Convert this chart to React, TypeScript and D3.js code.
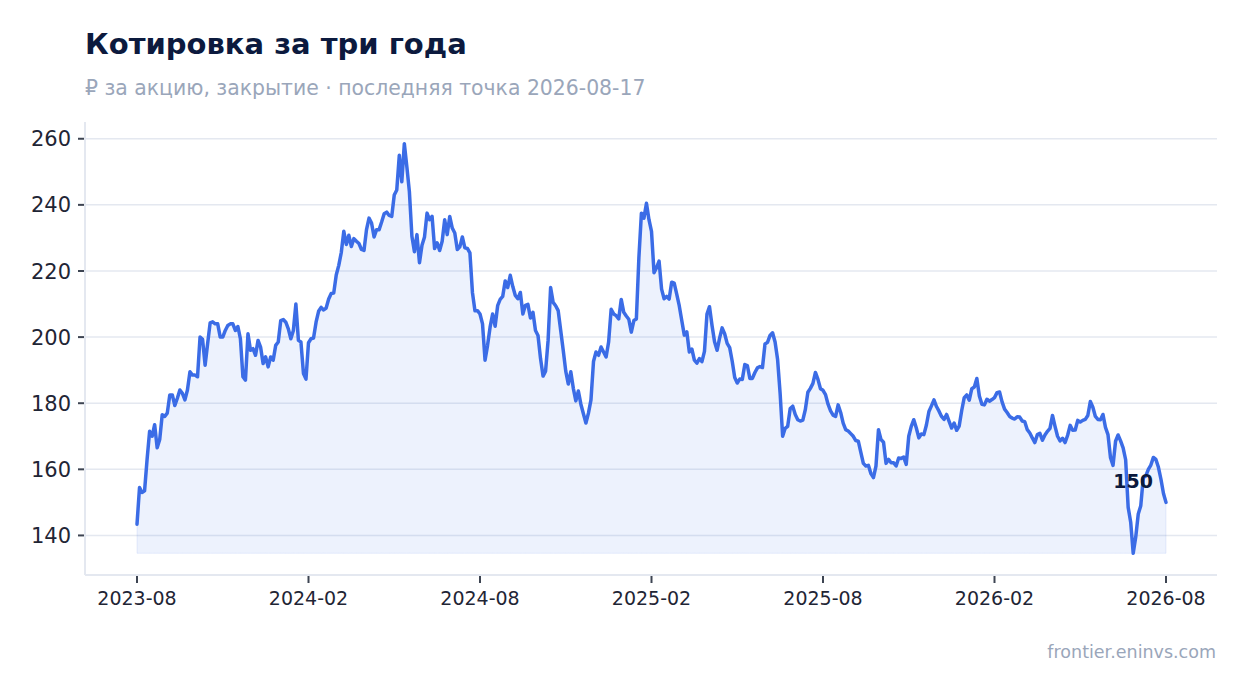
import * as d3 from "d3";

// closing price, evenly spaced observations from 2023-08 to 2026-08-17
const prices = [
  143.4, 154.5, 153, 153.5, 163, 171.5, 170, 173.5, 166.5, 169,
  176.5, 176, 177, 182.5, 182.5, 179.3, 181.5, 184, 183, 181,
  184, 189.5, 188.5, 188.5, 188, 200, 199.3, 191.5, 198, 204.3,
  204.6, 204, 204, 200, 200, 202, 203.5, 204, 204, 202,
  203.2, 199.5, 188, 187, 201, 196, 196.5, 194.5, 199, 197,
  192, 194, 191, 194, 193, 197.5, 198.5, 205, 205.3, 204.5,
  202.5, 199.5, 202, 210, 199, 198.5, 189, 187.3, 198.3, 199.5,
  199.7, 204.5, 207.8, 209, 208.2, 208.8, 211.5, 213.2, 213.3, 218.8,
  221.7, 225.6, 232, 228, 230.8, 227.4, 229.8, 229, 228.3, 226.5,
  226.2, 232.5, 236, 234.5, 230.3, 232.5, 232.5, 234.8, 237.3, 237.8,
  236.8, 236.5, 243, 244.5, 255, 247, 258.5, 251.5, 244, 230.5,
  225.8, 231, 222.5, 227.8, 230.3, 237.5, 235.5, 236.5, 226.8, 228.5,
  226.2, 229, 235.5, 231, 236.5, 233, 231.5, 226.5, 227.3, 230.3,
  227, 226.8, 225.5, 213.5, 208, 208, 207, 204, 193, 197.5,
  203, 207, 203.3, 209.5, 211.4, 212.3, 217, 215, 218.7, 215.3,
  212.6, 211.6, 213.5, 207, 209.6, 209.9, 205.8, 207.5, 202, 200.5,
  193.5, 188.2, 189.7, 199, 215, 210.5, 209.5, 208, 202, 196,
  189.7, 185.8, 189.5, 184.5, 180.7, 183.7, 179.7, 176.8, 174, 177,
  181, 192.6, 195.5, 194.5, 197, 195.5, 194, 198.5, 208.4, 207,
  206.5, 205.5, 211.4, 207.5, 206.4, 205.4, 201.5, 205, 205.5, 224,
  237.5, 236, 240.5, 235.5, 232, 219.5, 221, 223, 214.5, 211.6,
  212.3, 211.5, 216.6, 216.3, 213, 209.5, 205, 200.6, 201.6, 195.5,
  196.4, 193, 192.1, 193.5, 192.6, 195.7, 207, 209.2, 203.5, 198.6,
  196, 199.7, 202.8, 201, 198.1, 196.8, 192.7, 187.8, 186.1, 187.3,
  187.2, 191.7, 191.4, 187.5, 187.5, 189.3, 190.7, 191.1, 190.8, 197.9,
  198.4, 200.5, 201.3, 198.5, 193.2, 183, 170, 172.4, 173, 178.4,
  179.1, 176.6, 175, 174.6, 174.9, 178.1, 183.3, 184.5, 186, 189.3,
  187.2, 184.4, 183.9, 182.6, 179.7, 177.7, 176.4, 176, 179.5, 177.2,
  174, 172, 171.6, 170.8, 170, 168.7, 168.5, 165.1, 161.8, 161,
  161.2, 158.7, 157.5, 161, 172, 169, 168.2, 161.8, 163, 162,
  162, 161, 163.4, 163.3, 163.7, 161.5, 170, 173, 175, 172.5,
  169.5, 170.7, 170.5, 173.4, 177.5, 179.2, 181, 179, 177.6, 176,
  175.1, 176.6, 174.5, 172.5, 174, 171.8, 173.1, 177.8, 181.7, 182.5,
  180.9, 184.4, 184.9, 187.5, 182.2, 179.7, 179.5, 181.2, 180.6, 181.1,
  181.7, 183.2, 183.4, 180.4, 178.2, 177.2, 176, 175.5, 175.2, 175.9,
  175.8, 174.6, 174.4, 172, 171, 169.5, 168.1, 170.5, 170.9, 168.8,
  170.4, 171.5, 172.4, 176.3, 173, 170, 168.6, 169.4, 168.1, 170.3,
  173.3, 171.8, 171.9, 174.8, 174.3, 174.8, 175.1, 176.3, 180.5, 178.8,
  176, 175.1, 175, 176.6, 172.7, 170.5, 163.5, 161.2, 168.5, 170.4,
  168.6, 166.5, 162.9, 148.5, 144, 134.6, 139.5, 146.5, 149, 157.5,
  158, 160, 161.3, 163.6, 163, 160.6, 157, 152.7, 150,
];

const tickLabels = ["2023-08", "2024-02", "2024-08", "2025-02", "2025-08", "2026-02", "2026-08"];
const yTicks = [140, 160, 180, 200, 220, 240, 260];

const title = "Котировка за три года";
const subtitle = "₽ за акцию, закрытие · последняя точка 2026-08-17";
const source = "frontier.eninvs.com";

const width = 1247;
const height = 693;
const plot = { left: 85, right: 1217, top: 122, bottom: 575 };
const font = "'DejaVu Sans', sans-serif";

const App = () => {
  const [lo, hi] = d3.extent(prices) as [number, number];
  const pad = (hi - lo) * 0.053;

  const x = d3
    .scaleLinear()
    .domain([0, prices.length - 1])
    .range([plot.left + 52, plot.right - 51]);
  const y = d3
    .scaleLinear()
    .domain([lo - pad, hi + pad])
    .range([plot.bottom, plot.top]);

  const line = d3
    .line<number>()
    .x((_, i) => x(i))
    .y((d) => y(d));
  const area = d3
    .area<number>()
    .x((_, i) => x(i))
    .y0(y(lo))
    .y1((d) => y(d));

  const step = (prices.length - 1) / (tickLabels.length - 1);
  const last = prices[prices.length - 1];
  const lastX = x(prices.length - 1);

  return (
    <svg
      width={width}
      height={height}
      style={{ position: "absolute", left: 0, top: 0, background: "#fff" }}
      fontFamily={font}
    >
      <text x={85} y={54} fontSize={29} fontWeight="bold" fill="#0c1a3e">
        {title}
      </text>
      <text x={85} y={95} fontSize={20.4} fill="#9aa6ba">
        {subtitle}
      </text>

      {yTicks.map((t) => (
        <g key={t}>
          <line x1={plot.left} x2={plot.right} y1={y(t)} y2={y(t)} stroke="#e4e8f0" strokeWidth={1.5} />
          <line x1={plot.left - 7} x2={plot.left - 1} y1={y(t)} y2={y(t)} stroke="#3d4452" strokeWidth={2} />
          <text x={plot.left - 14} y={y(t)} dy="0.36em" textAnchor="end" fontSize={21} fill="#1f2535">
            {t}
          </text>
        </g>
      ))}

      <line x1={plot.left} x2={plot.left} y1={plot.top} y2={plot.bottom} stroke="#e4e8f0" strokeWidth={2} />
      <line x1={plot.left} x2={plot.right} y1={plot.bottom} y2={plot.bottom} stroke="#e4e8f0" strokeWidth={2} />

      {tickLabels.map((t, i) => (
        <g key={t}>
          <line x1={x(i * step)} x2={x(i * step)} y1={plot.bottom + 1} y2={plot.bottom + 8} stroke="#3d4452" strokeWidth={2} />
          <text x={x(i * step)} y={605} textAnchor="middle" fontSize={19} fill="#1f2535">
            {t}
          </text>
        </g>
      ))}

      <path d={area(prices) ?? undefined} fill="#3b6ce6" fillOpacity={0.09} stroke="#3b6ce6" strokeOpacity={0.1} />
      <path
        d={line(prices) ?? undefined}
        fill="none"
        stroke="#3b6ce6"
        strokeWidth={3.5}
        strokeLinejoin="round"
        strokeLinecap="round"
      />

      <text x={lastX - 13} y={y(last) - 14} textAnchor="end" fontSize={19} fontWeight="bold" fill="#0c1a3e">
        {Math.round(last)}
      </text>

      <text x={1216} y={658} textAnchor="end" fontSize={17.5} fill="#9aa6ba">
        {source}
      </text>
    </svg>
  );
};

export default App;
